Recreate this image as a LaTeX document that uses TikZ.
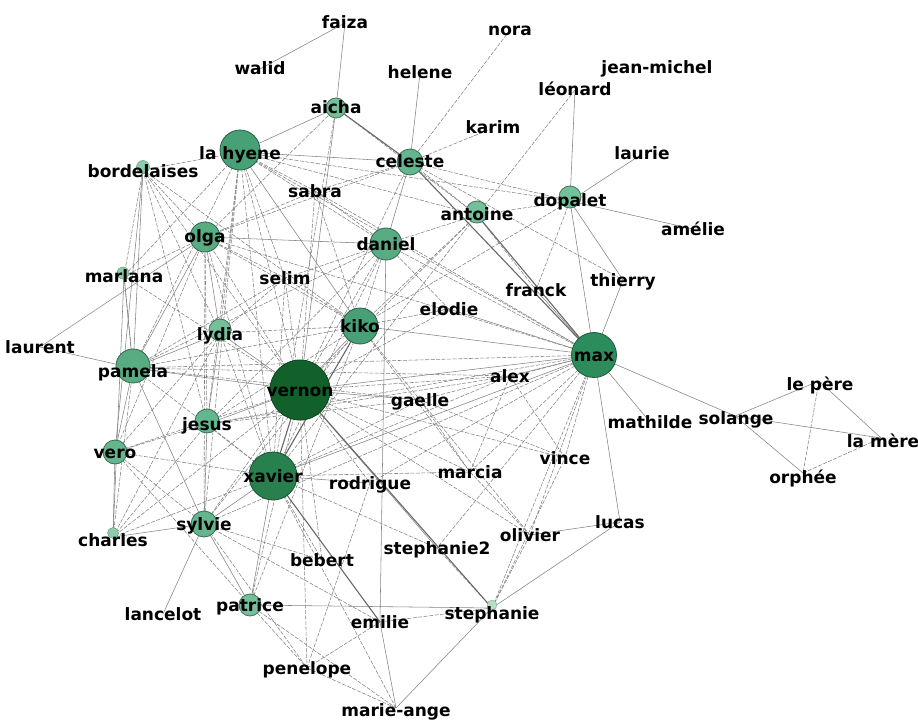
\documentclass[tikz,border=0pt]{standalone}
\usepackage{fontspec}
\setmainfont{DejaVu Sans}
\definecolor{c1}{RGB}{18,96,42}
\definecolor{c2}{RGB}{40,128,78}
\definecolor{c3}{RGB}{45,140,92}
\definecolor{c4}{RGB}{72,160,118}
\definecolor{c5}{RGB}{88,172,130}
\definecolor{c6}{RGB}{100,182,142}
\definecolor{c7}{RGB}{115,192,155}
\definecolor{c8}{RGB}{140,205,172}
\definecolor{c9}{RGB}{180,222,200}
\definecolor{edgegray}{RGB}{130,130,130}
\tikzset{
  es/.style={draw=edgegray, line width=0.55pt},
  ed/.style={draw=edgegray, line width=0.55pt, dash pattern=on 4pt off 1.5pt},
  eh/.style={draw=edgegray!80!black, line width=1.1pt},
  bub/.style={circle, inner sep=0pt, line width=0.8pt},
  lbl/.style={inner sep=0pt, font=\fontsize{17}{17}\selectfont\bfseries, text=black, text height=12pt, text depth=0pt}
}
\begin{document}
\begin{tikzpicture}[x=1pt,y=-1pt]
\useasboundingbox (0,0) rectangle (918,722);
% positions
\coordinate (faiza) at (345,23);
\coordinate (walid) at (260,69);
\coordinate (helene) at (420,73);
\coordinate (nora) at (510,30);
\coordinate (jeanmichel) at (657,68);
\coordinate (leonard) at (575,90);
\coordinate (karim) at (493,128);
\coordinate (laurie) at (642,154);
\coordinate (aicha) at (336,108);
\coordinate (lahyene) at (240,152);
\coordinate (bordelaises) at (143,170);
\coordinate (celeste) at (410,162);
\coordinate (sabra) at (315,191);
\coordinate (antoine) at (477,215);
\coordinate (dopalet) at (570,201);
\coordinate (amelie) at (693,229);
\coordinate (olga) at (205,237);
\coordinate (daniel) at (386,244);
\coordinate (marlana) at (124,276);
\coordinate (selim) at (285,278);
\coordinate (franck) at (536,290);
\coordinate (thierry) at (623,280);
\coordinate (elodie) at (449,309);
\coordinate (kiko) at (360,326);
\coordinate (lydia) at (220,333);
\coordinate (laurent) at (40,347);
\coordinate (pamela) at (133,368);
\coordinate (max) at (594,355);
\coordinate (vernon) at (300,390);
\coordinate (alex) at (510,376);
\coordinate (gaelle) at (420,400);
\coordinate (lepere) at (819,381);
\coordinate (jesus) at (207,424);
\coordinate (mathilde) at (650,422);
\coordinate (solange) at (735,416);
\coordinate (vero) at (115,452);
\coordinate (lamere) at (881,438);
\coordinate (vince) at (565,458);
\coordinate (xavier) at (273,476);
\coordinate (rodrigue) at (370,483);
\coordinate (marcia) at (470,472);
\coordinate (orphee) at (803,473);
\coordinate (charles) at (113,537);
\coordinate (sylvie) at (204,524);
\coordinate (lucas) at (620,522);
\coordinate (olivier) at (530,535);
\coordinate (stephanie2) at (437,548);
\coordinate (bebert) at (322,560);
\coordinate (lancelot) at (163,614);
\coordinate (patrice) at (250,605);
\coordinate (emilie) at (380,622);
\coordinate (stephanie) at (492,608);
\coordinate (penelope) at (307,668);
\coordinate (marieange) at (396,708);
% edges
\foreach \a/\b in {nora/celeste, karim/celeste, leonard/antoine, dopalet/franck, dopalet/antoine, dopalet/celeste, dopalet/kiko, lahyene/dopalet, celeste/antoine, celeste/sabra, celeste/olga, celeste/thierry, antoine/daniel, antoine/kiko, antoine/lahyene, antoine/franck, antoine/vernon, antoine/xavier, aicha/xavier, aicha/olga, lahyene/bordelaises, lahyene/sabra, lahyene/daniel, lahyene/vernon, lahyene/xavier, lahyene/pamela, lahyene/lydia, lahyene/jesus, lahyene/selim, lahyene/marlana, lahyene/sylvie, lahyene/max, bordelaises/olga, bordelaises/kiko, bordelaises/vernon, bordelaises/lydia, bordelaises/marlana, bordelaises/jesus, olga/vernon, olga/kiko, olga/xavier, olga/marlana, olga/sylvie, olga/jesus, olga/vero, olga/max, olga/selim, daniel/kiko, daniel/vernon, daniel/xavier, daniel/max, daniel/pamela, daniel/sabra, daniel/selim, daniel/jesus, kiko/lydia, kiko/pamela, kiko/jesus, kiko/sylvie, kiko/marcia, kiko/gaelle, kiko/selim, kiko/elodie, kiko/patrice, max/gaelle, max/marcia, max/vince, max/olivier, max/pamela, max/jesus, max/sylvie, max/rodrigue, max/stephanie2, vernon/vero, vernon/sylvie, vernon/patrice, vernon/alex, vernon/marcia, vernon/rodrigue, vernon/penelope, vernon/charles, vernon/marlana, vernon/selim, vernon/vince, vernon/bebert, vernon/olivier, xavier/pamela, xavier/jesus, xavier/vero, xavier/charles, xavier/stephanie2, xavier/marieange, xavier/bebert, xavier/gaelle, xavier/alex, xavier/marcia, xavier/lydia, xavier/selim, pamela/charles, pamela/marlana, pamela/gaelle, pamela/alex, vero/jesus, vero/sylvie, vero/lydia, vero/patrice, charles/jesus, charles/lydia, sylvie/penelope, sylvie/emilie, sylvie/bebert, patrice/penelope, patrice/marieange, emilie/penelope, emilie/stephanie, penelope/marieange, penelope/rodrigue, stephanie/stephanie2, stephanie/olivier, stephanie/vince, olivier/marcia, olivier/gaelle, marcia/gaelle, marcia/alex, vince/gaelle, vince/alex, selim/lydia, selim/pamela, sabra/olga, sabra/kiko, sabra/max, sabra/vernon, jesus/gaelle, jesus/alex, elodie/daniel, elodie/vernon, aicha/antoine, celeste/vernon, lepere/orphee, orphee/lamere, max/stephanie}
  \draw[ed] (\a) -- (\b);
\foreach \a/\b in {faiza/walid, faiza/aicha, helene/celeste, leonard/dopalet, laurie/dopalet, dopalet/max, dopalet/thierry, max/lucas, max/mathilde, max/solange, solange/lepere, solange/lamere, solange/orphee, lepere/lamere, lucas/olivier, lucas/stephanie, patrice/stephanie, emilie/marieange, daniel/emilie, kiko/max, olga/daniel, lahyene/celeste, bordelaises/pamela, bordelaises/vero, marlana/pamela, pamela/vero, vero/charles, charles/sylvie, laurent/olga, laurent/pamela, xavier/patrice, jesus/sylvie, olga/lydia, lahyene/kiko, kiko/vernon, vernon/max, vernon/gaelle, pamela/lydia, vernon/pamela, max/franck, max/thierry, aicha/lahyene, celeste/daniel, dopalet/amelie, xavier/rodrigue, sylvie/xavier, vernon/stephanie2, max/alex, max/elodie, olga/pamela, marlana/charles, lydia/jesus, pamela/sylvie, sylvie/lancelot, sylvie/patrice, vernon/jesus, vernon/lydia, aicha/vernon, xavier/max, stephanie/marieange}
  \draw[es] (\a) -- (\b);
\foreach \a/\b in {antoine/max, celeste/max, aicha/celeste, vernon/stephanie, xavier/emilie, xavier/vernon, kiko/xavier}
  \draw[eh] (\a) -- (\b);
% bubbles
\node[bub, fill=c1, draw=c1!70!black, minimum size=60pt] (vernon-c) at (vernon) {};
\node[bub, fill=c2, draw=c2!65!black, minimum size=48pt] (xavier-c) at (xavier) {};
\node[bub, fill=c3, draw=c3!65!black, minimum size=45pt] (max-c) at (max) {};
\node[bub, fill=c4, draw=c4!60!black, minimum size=40pt] (lahyene-c) at (240,150) {};
\node[bub, fill=c4, draw=c4!60!black, minimum size=36pt] (kiko-c) at (kiko) {};
\node[bub, fill=c5, draw=c5!60!black, minimum size=34pt] (pamela-c) at (133,366) {};
\node[bub, fill=c5, draw=c5!60!black, minimum size=32pt] (daniel-c) at (daniel) {};
\node[bub, fill=c5, draw=c5!60!black, minimum size=30pt] (olga-c) at (olga) {};
\node[bub, fill=c6, draw=c6!60!black, minimum size=26pt] (celeste-c) at (celeste) {};
\node[bub, fill=c6, draw=c6!60!black, minimum size=26pt] (sylvie-c) at (sylvie) {};
\node[bub, fill=c6, draw=c6!60!black, minimum size=24pt] (jesus-c) at (207,421) {};
\node[bub, fill=c6, draw=c6!60!black, minimum size=24pt] (vero-c) at (vero) {};
\node[bub, fill=c7, draw=c7!60!black, minimum size=22pt] (lydia-c) at (220,330) {};
\node[bub, fill=c7, draw=c7!60!black, minimum size=22pt] (antoine-c) at (477,212) {};
\node[bub, fill=c7, draw=c7!60!black, minimum size=22pt] (dopalet-c) at (570,197) {};
\node[bub, fill=c7, draw=c7!60!black, minimum size=22pt] (patrice-c) at (patrice) {};
\node[bub, fill=c7, draw=c7!60!black, minimum size=20pt] (aicha-c) at (aicha) {};
\node[bub, fill=c8, draw=c8!70!black, line width=0.4pt, minimum size=13pt] (bordelaises-c) at (143,167) {};
\node[bub, fill=c8, draw=c8!70!black, line width=0.4pt, minimum size=12pt] (marlana-c) at (123,273) {};
\node[bub, fill=c8, draw=c8!70!black, line width=0.4pt, minimum size=11pt] (charles-c) at (113,533) {};
\node[bub, fill=c9, draw=c9!70!black, line width=0.3pt, minimum size=10pt] (stephanie-c) at (492,605) {};
% labels
\node[lbl] (faiza-l) at (faiza) {faiza};
\node[lbl] (walid-l) at (walid) {walid};
\node[lbl] (helene-l) at (helene) {helene};
\node[lbl] (nora-l) at (nora) {nora};
\node[lbl] (jeanmichel-l) at (jeanmichel) {jean-michel};
\node[lbl] (leonard-l) at (leonard) {léonard};
\node[lbl] (karim-l) at (karim) {karim};
\node[lbl] (laurie-l) at (laurie) {laurie};
\node[lbl] (aicha-l) at (aicha) {aicha};
\node[lbl] (lahyene-l) at (240,154) {la hyene};
\node[lbl] (bordelaises-l) at (143,172) {bordelaises};
\node[lbl] (celeste-l) at (celeste) {celeste};
\node[lbl] (sabra-l) at (sabra) {sabra};
\node[lbl] (antoine-l) at (antoine) {antoine};
\node[lbl] (dopalet-l) at (dopalet) {dopalet};
\node[lbl] (amelie-l) at (amelie) {amélie};
\node[lbl] (olga-l) at (olga) {olga};
\node[lbl] (daniel-l) at (daniel) {daniel};
\node[lbl] (marlana-l) at (marlana) {marlana};
\node[lbl] (selim-l) at (selim) {selim};
\node[lbl] (franck-l) at (franck) {franck};
\node[lbl] (thierry-l) at (thierry) {thierry};
\node[lbl] (elodie-l) at (elodie) {elodie};
\node[lbl] (kiko-l) at (kiko) {kiko};
\node[lbl] (lydia-l) at (220,334) {lydia};
\node[lbl] (laurent-l) at (laurent) {laurent};
\node[lbl] (pamela-l) at (133,371) {pamela};
\node[lbl] (max-l) at (max) {max};
\node[lbl] (vernon-l) at (vernon) {vernon};
\node[lbl] (alex-l) at (alex) {alex};
\node[lbl] (gaelle-l) at (gaelle) {gaelle};
\node[lbl] (lepere-l) at (820,384) {le père};
\node[lbl] (jesus-l) at (jesus) {jesus};
\node[lbl] (mathilde-l) at (mathilde) {mathilde};
\node[lbl] (solange-l) at (736,418) {solange};
\node[lbl] (vero-l) at (vero) {vero};
\node[lbl] (lamere-l) at (883,441) {la mère};
\node[lbl] (vince-l) at (vince) {vince};
\node[lbl] (xavier-l) at (xavier) {xavier};
\node[lbl] (rodrigue-l) at (rodrigue) {rodrigue};
\node[lbl] (marcia-l) at (marcia) {marcia};
\node[lbl] (orphee-l) at (803,477) {orphée};
\node[lbl] (charles-l) at (113,540) {charles};
\node[lbl] (sylvie-l) at (sylvie) {sylvie};
\node[lbl] (lucas-l) at (lucas) {lucas};
\node[lbl] (olivier-l) at (olivier) {olivier};
\node[lbl] (stephanie2-l) at (stephanie2) {stephanie2};
\node[lbl] (bebert-l) at (bebert) {bebert};
\node[lbl] (lancelot-l) at (lancelot) {lancelot};
\node[lbl] (patrice-l) at (patrice) {patrice};
\node[lbl] (emilie-l) at (emilie) {emilie};
\node[lbl] (stephanie-l) at (492,613) {stephanie};
\node[lbl] (penelope-l) at (penelope) {penelope};
\node[lbl] (marieange-l) at (396,710) {marie-ange};
\end{tikzpicture}
\end{document}
